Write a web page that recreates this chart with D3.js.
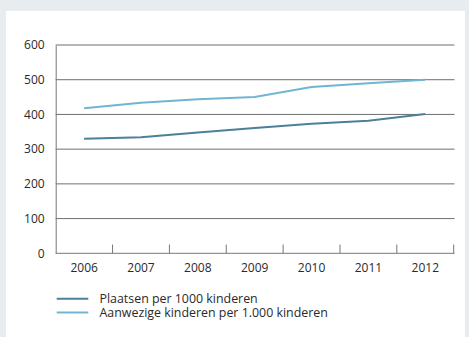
<!DOCTYPE html>
<html>
<head>
<meta charset="utf-8">
<script src="https://cdn.jsdelivr.net/npm/d3@7"></script>
<style>
	body { margin: 0; background: #e9ecef; }
	svg { display: block; }
	text { font-family: "Open Sans", "Noto Sans", sans-serif; fill: #2a2a2a; }
</style>
</head>
<body>
<div class="chart"></div>
<script>
var years = ["2006", "2007", "2008", "2009", "2010", "2011", "2012"];
var plaatsen = [330, 334, 348, 361, 373, 382, 401];
var aanwezig = [418, 434, 444, 450, 479, 490, 500];
var yTicks = [0, 100, 200, 300, 400, 500, 600];
var seriesNames = ["Plaatsen per 1000 kinderen", "Aanwezige kinderen per 1.000 kinderen"];

var width = 469;
var height = 337;
var colors = ["#4b7f9a", "#72b5d3"];

var svg = d3.select(".chart")
	.append("svg")
	.attr("width", width)
	.attr("height", height);

// white panel
svg.append("rect")
	.attr("x", 6)
	.attr("y", 11)
	.attr("width", 459)
	.attr("height", 330)
	.attr("fill", "#fff");

var x = d3.scaleBand()
	.domain(years)
	.range([55.7, 453.7]);

var y = d3.scaleLinear()
	.domain([0, 600])
	.range([253.3, 45]);

// gridlines
svg.append("g")
	.selectAll("line")
	.data(yTicks.slice(1))
	.enter()
	.append("line")
	.attr("x1", 55.7)
	.attr("x2", 454.5)
	.attr("y1", function(d) { return y(d); })
	.attr("y2", function(d) { return y(d); })
	.attr("stroke", "#6f6f6f")
	.attr("stroke-width", 1);

// y axis
var yAxis = svg.append("g")
	.attr("transform", "translate(55.7,0)")
	.call(d3.axisLeft(y).tickValues(yTicks).tickSize(0).tickPadding(11));
yAxis.select(".domain").attr("stroke", "#777");
yAxis.selectAll("text").attr("font-size", 12).style("fill", "#2a2a2a");

// x axis
var xAxis = svg.append("g")
	.attr("transform", "translate(0,253.3)")
	.call(d3.axisBottom(x).tickSize(0).tickPadding(10));
xAxis.select(".domain").attr("stroke", "#777").attr("d", "M55.7,0H454.5");
xAxis.selectAll("text").attr("font-size", 12).style("fill", "#2a2a2a");

// tick marks between years
svg.append("g")
	.selectAll("line")
	.data(years)
	.enter()
	.append("line")
	.attr("x1", function(d) { return x(d) + x.bandwidth(); })
	.attr("x2", function(d) { return x(d) + x.bandwidth(); })
	.attr("y1", 244.5)
	.attr("y2", 253.3)
	.attr("stroke", "#777");

var line = d3.line()
	.x(function(d, i) { return x(years[i]) + x.bandwidth() / 2; })
	.y(function(d) { return y(d); });

[plaatsen, aanwezig].forEach(function(s, i) {
	svg.append("path")
		.datum(s)
		.attr("d", line)
		.attr("fill", "none")
		.attr("stroke", colors[i])
		.attr("stroke-width", 2);
});

// legend
var legend = svg.append("g")
	.selectAll("g")
	.data(seriesNames)
	.enter()
	.append("g")
	.attr("transform", function(d, i) { return "translate(0," + (298.8 + i * 13.6) + ")"; });

legend.append("line")
	.attr("x1", 56.7)
	.attr("x2", 88.3)
	.attr("stroke", function(d, i) { return colors[i]; })
	.attr("stroke-width", 2);

legend.append("text")
	.attr("x", 99.5)
	.attr("dy", "0.35em")
	.attr("font-size", 12.4)
	.text(function(d) { return d; });
</script>
</body>
</html>
